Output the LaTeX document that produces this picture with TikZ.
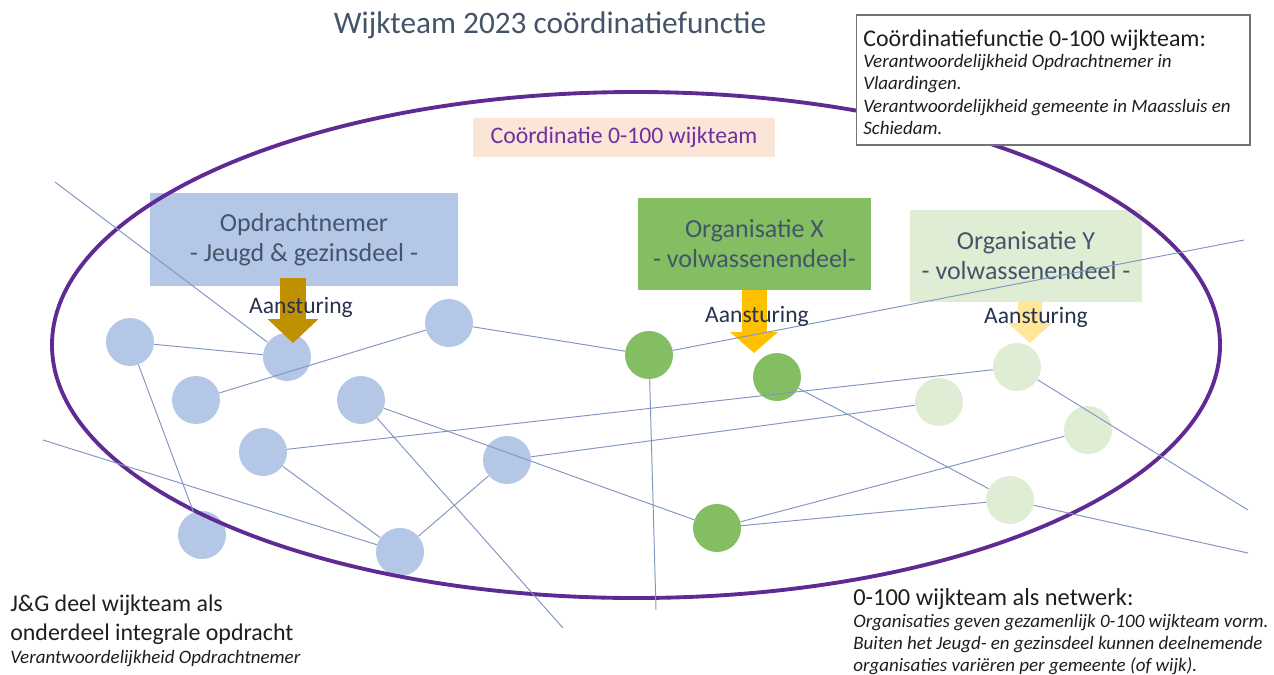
\documentclass[tikz,border=0pt]{standalone}
\usepackage{fontspec}
\setmainfont{Carlito}
\usetikzlibrary{arrows.meta}
\definecolor{wtslate}{RGB}{68,84,106}
\definecolor{wtnavy}{RGB}{38,50,78}
\definecolor{wtink}{RGB}{30,30,30}
\definecolor{wtpurple}{RGB}{96,42,148}
\definecolor{wtlila}{RGB}{112,48,160}
\definecolor{wtpeach}{RGB}{251,229,214}
\definecolor{wtblue}{RGB}{180,199,231}
\definecolor{wtgreen}{RGB}{132,190,98}
\definecolor{wtpale}{RGB}{222,237,212}
\definecolor{wtgold}{RGB}{191,144,0}
\definecolor{wtyellow}{RGB}{255,192,0}
\definecolor{wtcream}{RGB}{255,230,153}
\definecolor{wtline}{RGB}{130,150,195}

\begin{document}
\begin{tikzpicture}[
x=0.02cm, y=-0.02cm,
texts/.style = {text=wtslate},
orgbox/.style = {texts, align=center, inner sep=0pt, minimum width=4.66cm, minimum height=1.84cm, font=\fontsize{14.8}{17}\selectfont},
member/.style = {circle, minimum size=0.96cm, inner sep=0pt},
jgmember/.style = {member, fill=wtblue},
xmember/.style = {member, fill=wtgreen},
ymember/.style = {member, fill=wtpale},
netline/.style = {draw=wtline, line width=0.55pt},
stuurlabel/.style = {text=wtnavy, anchor=base, font=\fontsize{13.4}{15}\selectfont},
note/.style = {text=wtink, anchor=north west, inner sep=0pt, align=left},
notehead/.style = {note, font=\fontsize{13.6}{16}\selectfont},
notebody/.style = {note, font=\fontsize{10.8}{12.7}\selectfont\itshape}
]
\useasboundingbox (0,0) rectangle (1274,674);

\node[texts, anchor=base, font=\fontsize{17.8}{20}\selectfont] (titel) at (550,33) {Wijkteam 2023 coördinatiefunctie};

\node[fill=wtpeach, text=wtlila, minimum width=6.04cm, minimum height=0.78cm, inner sep=0pt, font=\fontsize{13.5}{15}\selectfont] (coord) at (624,137.5) {Coördinatie 0-100 wijkteam};

% organisaties
\node[orgbox, fill=wtblue, minimum width=6.16cm, minimum height=1.86cm] (jg) at (304,239.5) {Opdrachtnemer\\- Jeugd \& gezinsdeel -};
\node[orgbox, fill=wtgreen] (orgx) at (754.5,244) {Organisatie X\\- volwassenendeel-};
\node[orgbox, fill=wtpale] (orgy) at (1026,256) {Organisatie Y\\- volwassenendeel -};

% leden van het wijkteam
\node[jgmember] (b1) at (130,342) {};
\node[jgmember] (b2) at (287,357) {};
\node[jgmember] (b3) at (449,323) {};
\node[jgmember] (b4) at (196,400) {};
\node[jgmember] (b5) at (361,400) {};
\node[jgmember] (b6) at (263,452) {};
\node[jgmember] (b7) at (507,460) {};
\node[jgmember] (b8) at (202,535) {};
\node[jgmember] (b9) at (400,552) {};
\node[xmember] (g1) at (649,355) {};
\node[xmember] (g2) at (777,377) {};
\node[xmember] (g3) at (717,528) {};
\node[ymember] (y1) at (1017,367) {};
\node[ymember] (y2) at (939,402) {};
\node[ymember] (y3) at (1088,430) {};
\node[ymember] (y4) at (1010,500) {};

\draw[wtpurple, line width=2.2pt] (636,345) ellipse [x radius=584, y radius=253];

\node[draw=black!55, line width=0.6pt, fill=white, minimum width=7.88cm, minimum height=2.6cm, inner sep=0pt] (functie) at (1053,80) {};
\node[notehead, anchor=base west] (functiekop) at (863,46.7) {Coördinatiefunctie 0-100 wijkteam:};
\node[notebody] (functietekst) at (863,54) {Verantwoordelijkheid Opdrachtnemer in\\Vlaardingen.\\Verantwoordelijkheid gemeente in Maassluis en\\Schiedam.};

% aansturing
\coordinate (a1top) at (293,278);
\coordinate (a1tip) at (293,343);
\coordinate (a2top) at (754,290);
\coordinate (a2tip) at (754,353);
\coordinate (a3top) at (1030,302);
\coordinate (a3tip) at (1030,343);
\draw[wtgold, line width=0.52cm, -{Triangle[length=0.48cm, width=1.02cm, line width=0pt]}] (a1top) -- (a1tip);
\draw[wtyellow, line width=0.5cm, -{Triangle[length=0.42cm, width=0.96cm, line width=0pt]}] (a2top) -- (a2tip);
\draw[wtcream, line width=0.48cm, -{Triangle[length=0.4cm, width=0.88cm, line width=0pt]}] (a3top) -- (a3tip);

% netwerk
\coordinate (nw) at (55,182);
\coordinate (w) at (43,440);
\coordinate (zb) at (563,628);
\coordinate (zx) at (656,610);
\coordinate (ob) at (1244,240);
\coordinate (om) at (1248,510);
\coordinate (oo) at (1248,553);
\draw[netline] (nw) -- (b2);
\draw[netline] (b1) -- (b2);
\draw[netline] (b1) -- (b8);
\draw[netline] (b4) -- (b3);
\draw[netline] (b3) -- (g1);
\draw[netline] (b5) -- (g3);
\draw[netline] (b5) -- (zb);
\draw[netline] (b6) -- (y1);
\draw[netline] (b6) -- (b9);
\draw[netline] (b9) -- (b7);
\draw[netline] (b7) -- (y2);
\draw[netline] (w) -- (b9);
\draw[netline] (g1) -- (ob);
\draw[netline] (g1) -- (zx);
\draw[netline] (g2) -- (y4);
\draw[netline] (g3) -- (y3);
\draw[netline] (g3) -- (y4);
\draw[netline] (y4) -- (oo);
\draw[netline] (y1) -- (om);

\node[stuurlabel] (stuur1) at (301,313) {Aansturing};
\node[stuurlabel] (stuur2) at (757,322) {Aansturing};
\node[stuurlabel] (stuur3) at (1036,323) {Aansturing};

% toelichting onder
\node[notehead] (jgkop) at (10,595) {J\&G deel wijkteam als\\onderdeel integrale opdracht};
\node[notebody, anchor=base west] (jgtekst) at (10,663) {Verantwoordelijkheid Opdrachtnemer};
\node[notehead, anchor=base west, font=\fontsize{13.9}{16}\selectfont] (netkop) at (853,605) {0-100 wijkteam als netwerk:};
\node[notebody, font=\fontsize{10.8}{12.5}\selectfont\itshape] (nettekst) at (853,614) {Organisaties geven gezamenlijk 0-100 wijkteam vorm.\\Buiten het Jeugd- en gezinsdeel kunnen deelnemende\\organisaties variëren per gemeente (of wijk).};
\end{tikzpicture}
\end{document}
